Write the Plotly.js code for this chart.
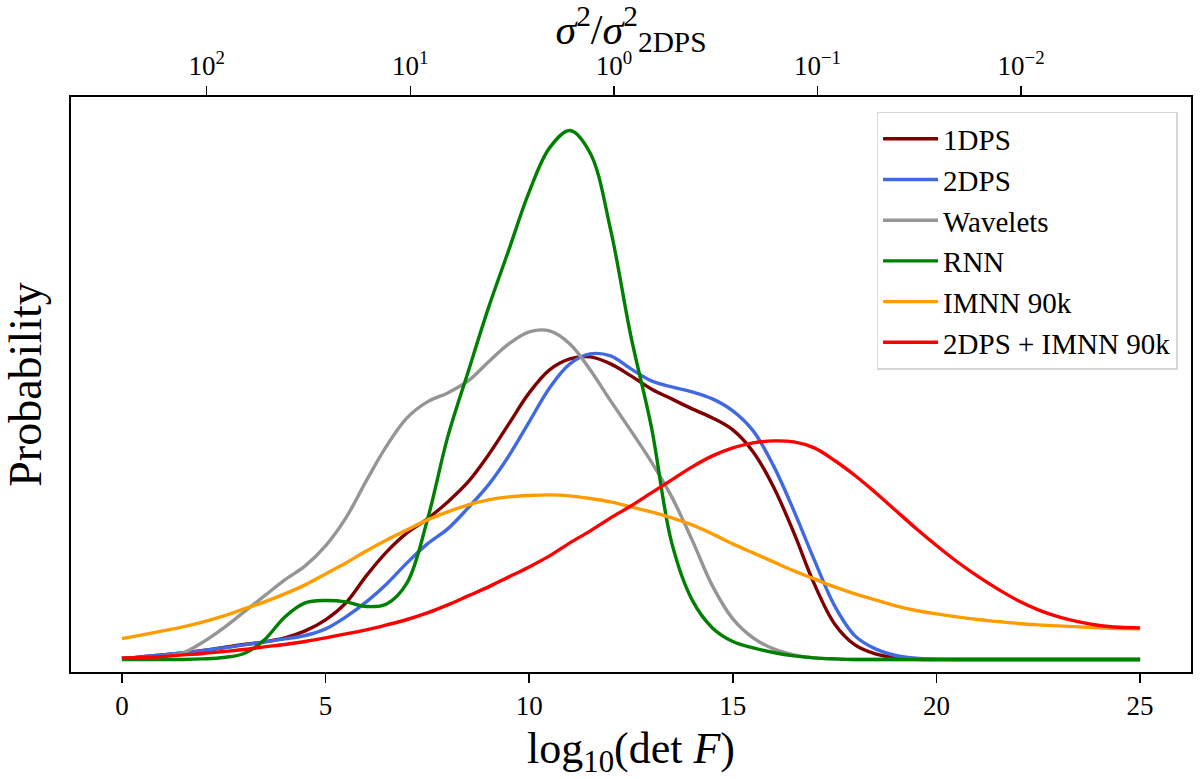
<!DOCTYPE html>
<html>
<head>
<meta charset="utf-8">
<script src="https://cdn.plot.ly/plotly-3.0.1.min.js"></script>
<style>
  body { margin: 0; background: #fff; }
  #chart { width: 1200px; height: 779px; }
</style>
</head>
<body>
<div id="chart"></div>
<script>
// log10(det F) grid, step 0.5
var logdet = [0, 0.5, 1, 1.5, 2, 2.5, 3, 3.5, 4, 4.5, 5, 5.5, 6, 6.5, 7, 7.5, 8, 8.5, 9, 9.5,
	10, 10.5, 11, 11.5, 12, 12.5, 13, 13.5, 14, 14.5, 15, 15.5, 16, 16.5, 17, 17.5, 18, 18.5, 19, 19.5,
	20, 20.5, 21, 21.5, 22, 22.5, 23, 23.5, 24, 24.5, 25];

var p_1dps = [0.0006, 0.0013, 0.0023, 0.0033, 0.0045, 0.006, 0.0075, 0.0088, 0.0108, 0.0143,
	0.0198, 0.0283, 0.0418, 0.0538, 0.0633, 0.0703, 0.0788, 0.0888, 0.1023, 0.1178,
	0.1333, 0.1448, 0.1503, 0.1513, 0.1478, 0.1418, 0.1353, 0.1303, 0.1253, 0.1208,
	0.1148, 0.1038, 0.0863, 0.0633, 0.0378, 0.0178, 0.0073, 0.0028, 0.0008, 0.0001,
	0, 0, 0, 0, 0, 0, 0, 0, 0, 0, 0];

var p_2dps = [0.0006, 0.0013, 0.0023, 0.0033, 0.0045, 0.0058, 0.0073, 0.0088, 0.0103, 0.012,
	0.0153, 0.0213, 0.0288, 0.0378, 0.0483, 0.0578, 0.0653, 0.0758, 0.0873, 0.1018,
	0.1188, 0.1358, 0.1478, 0.1528, 0.1518, 0.1453, 0.1393, 0.1363, 0.1338, 0.1303,
	0.1243, 0.1143, 0.0968, 0.0743, 0.0498, 0.0268, 0.0118, 0.0053, 0.002, 0.0006,
	0.0002, 0, 0, 0, 0, 0, 0, 0, 0, 0, 0];

var p_wavelets = [0.0005, 0.0008, 0.0015, 0.0033, 0.0088, 0.0158, 0.0238, 0.0318, 0.0398, 0.0468,
	0.0568, 0.0708, 0.0893, 0.1068, 0.1208, 0.1288, 0.1333, 0.1393, 0.1488, 0.1578,
	0.1638, 0.1643, 0.1578, 0.1448, 0.1293, 0.1143, 0.0988, 0.0813, 0.0598, 0.0368,
	0.0203, 0.0108, 0.0053, 0.0023, 0.0008, 0.0003, 0, 0, 0, 0,
	0, 0, 0, 0, 0, 0, 0, 0, 0, 0, 0];

var p_rnn = [0, 0, 0, 0, 0.0003, 0.001, 0.003, 0.0098, 0.0213, 0.0283,
	0.0295, 0.0288, 0.0265, 0.0278, 0.0383, 0.0698, 0.1113, 0.1438, 0.1758, 0.2048,
	0.2338, 0.2558, 0.2645, 0.2531, 0.2148, 0.1614, 0.1163, 0.0583, 0.0298, 0.0158,
	0.009, 0.0058, 0.0035, 0.0018, 0.0008, 0.0003, 0, 0, 0, 0,
	0, 0, 0, 0, 0, 0, 0, 0, 0, 0, 0];

var p_imnn = [0.0104, 0.0123, 0.0143, 0.0163, 0.0188, 0.0218, 0.0253, 0.0288, 0.0328, 0.0373,
	0.0428, 0.0483, 0.0543, 0.0598, 0.0648, 0.0698, 0.0738, 0.0773, 0.0798, 0.0813,
	0.082, 0.0823, 0.0818, 0.0805, 0.0788, 0.0763, 0.0738, 0.0708, 0.0673, 0.0628,
	0.0578, 0.0533, 0.0488, 0.0443, 0.0403, 0.0363, 0.0328, 0.0298, 0.0268, 0.0245,
	0.0228, 0.0213, 0.02, 0.019, 0.018, 0.0173, 0.0168, 0.0163, 0.0158, 0.0155, 0.0153];

var p_combined = [0.0006, 0.001, 0.0015, 0.0023, 0.003, 0.004, 0.005, 0.0063, 0.0075, 0.009,
	0.0108, 0.0128, 0.0148, 0.0173, 0.02, 0.0233, 0.0273, 0.0318, 0.0363, 0.0413,
	0.0463, 0.0518, 0.0583, 0.0643, 0.0708, 0.0768, 0.0833, 0.0898, 0.0963, 0.1018,
	0.1058, 0.1083, 0.1093, 0.1088, 0.1058, 0.0995, 0.092, 0.0835, 0.0745, 0.0655,
	0.057, 0.049, 0.0418, 0.0353, 0.0295, 0.0248, 0.0213, 0.0188, 0.017, 0.0161, 0.0158];

var names = ['1DPS', '2DPS', 'Wavelets', 'RNN', 'IMNN 90k', '2DPS + IMNN 90k'];
var colors = ['#800000', '#4169e1', '#959595', '#008000', '#ff9d00', '#ff0000'];
var series = [p_1dps, p_2dps, p_wavelets, p_rnn, p_imnn, p_combined];

// top axis: sigma^2 / sigma^2_2DPS (log, reversed)
var top_ticks = [100, 10, 1, 0.1, 0.01];
var top_labels = ['10<sup>2</sup>', '10<sup>1</sup>', '10<sup>0</sup>', '10<sup>\u22121</sup>', '10<sup>\u22122</sup>'];

var font = 'Liberation Serif, Times New Roman, serif';

var data = [];
for (var i = 0; i < series.length; i++) {
	data.push({
		x: logdet,
		y: series[i],
		type: 'scatter',
		mode: 'lines',
		name: names[i],
		line: {color: colors[i], width: 3.4, shape: 'spline', smoothing: 1},
		hoverinfo: 'skip'
	});
}

// empty trace so the top axis gets drawn
data.push({
	x: top_ticks,
	y: top_ticks.map(function () { return null; }),
	xaxis: 'x2',
	type: 'scatter',
	mode: 'lines',
	showlegend: false,
	hoverinfo: 'skip'
});

var layout = {
	width: 1200,
	height: 779,
	margin: {l: 71, r: 9, t: 97, b: 107},
	paper_bgcolor: 'white',
	plot_bgcolor: 'white',
	font: {family: font, color: 'black'},
	showlegend: true,
	legend: {
		x: 0.988, xanchor: 'right',
		y: 0.974, yanchor: 'top',
		bgcolor: 'rgba(255,255,255,0.85)',
		bordercolor: '#d6d6d6',
		borderwidth: 1.5,
		font: {family: font, size: 29},
		itemwidth: 55,
		tracegroupgap: 0
	},
	xaxis: {
		range: [-1.25, 26.25],
		tickvals: [0, 5, 10, 15, 20, 25],
		ticks: 'outside',
		ticklen: 9,
		tickwidth: 1.5,
		tickcolor: 'black',
		showline: true,
		linecolor: 'black',
		linewidth: 2,
		showgrid: false,
		zeroline: false,
		tickfont: {family: font, size: 27},
		title: {text: 'log<sub>10</sub>(det <i>F</i>)', font: {family: font, size: 44}, standoff: 12}
	},
	xaxis2: {
		overlaying: 'x',
		side: 'top',
		anchor: 'y',
		type: 'log',
		range: [2.666, -2.834],
		tickvals: top_ticks,
		ticktext: top_labels,
		ticks: 'outside',
		ticklen: 9,
		tickwidth: 1.5,
		tickcolor: 'black',
		showline: true,
		linecolor: 'black',
		linewidth: 2,
		showgrid: false,
		zeroline: false,
		tickfont: {family: font, size: 27},
		title: {text: '<i>\u03c3</i><sup>2</sup>/<i>\u03c3</i><sup>2</sup><sub>2DPS</sub>', font: {family: font, size: 42}, standoff: 0}
	},
	yaxis: {
		range: [-0.00625, 0.28125],
		showticklabels: false,
		ticks: '',
		showline: true,
		mirror: true,
		linecolor: 'black',
		linewidth: 2,
		showgrid: false,
		zeroline: false,
		title: {text: 'Probability', font: {family: font, size: 46}, standoff: 14}
	}
};

Plotly.newPlot('chart', data, layout, {displayModeBar: false, staticPlot: true});
</script>
</body>
</html>
